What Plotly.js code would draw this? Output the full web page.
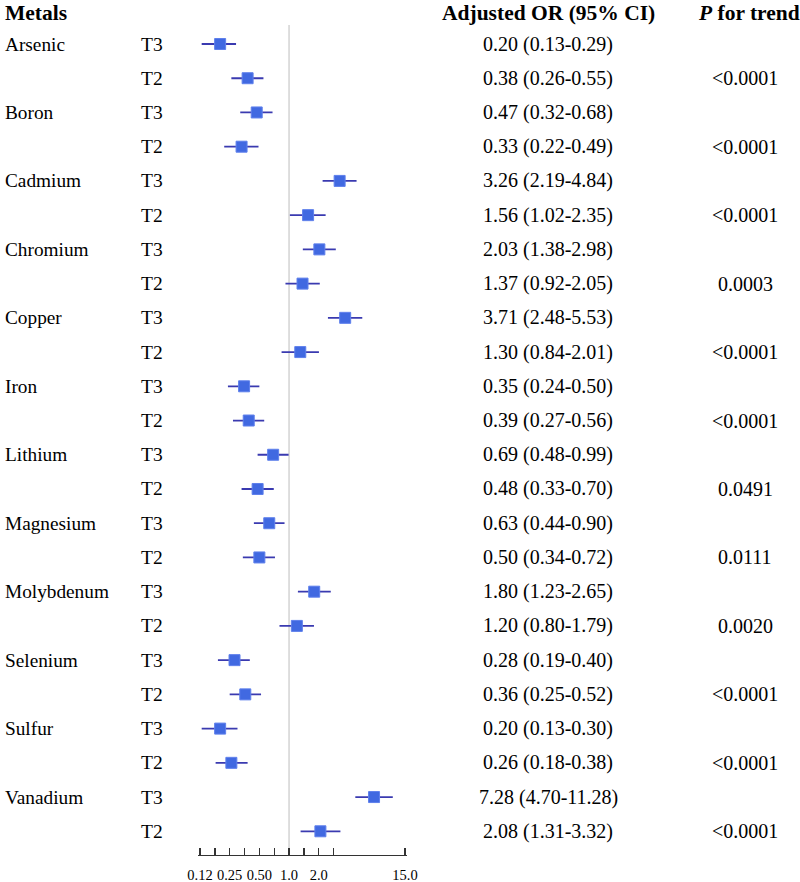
<!DOCTYPE html>
<html>
<head>
<meta charset="utf-8">
<script src="https://cdn.plot.ly/plotly-3.0.1.min.js"></script>
<style>html,body{margin:0;padding:0;background:#fff;}#chart{width:800px;height:882px;}</style>
</head>
<body>
<div id="chart"></div>
<script>
const metals = ["Arsenic","Boron","Cadmium","Chromium","Copper","Iron","Lithium","Magnesium","Molybdenum","Selenium","Sulfur","Vanadium"];
const t3OR = [0.20,0.47,3.26,2.03,3.71,0.35,0.69,0.63,1.80,0.28,0.20,7.28];
const t3Lo = [0.13,0.32,2.19,1.38,2.48,0.24,0.48,0.44,1.23,0.19,0.13,4.70];
const t3Hi = [0.29,0.68,4.84,2.98,5.53,0.50,0.99,0.90,2.65,0.40,0.30,11.28];
const t2OR = [0.38,0.33,1.56,1.37,1.30,0.39,0.48,0.50,1.20,0.36,0.26,2.08];
const t2Lo = [0.26,0.22,1.02,0.92,0.84,0.27,0.33,0.34,0.80,0.25,0.18,1.31];
const t2Hi = [0.55,0.49,2.35,2.05,2.01,0.56,0.70,0.72,1.79,0.52,0.38,3.32];
const pTrend = ["<0.0001","<0.0001","<0.0001","0.0003","<0.0001","<0.0001","0.0491","0.0111","0.0020","<0.0001","<0.0001","<0.0001"];
const tickVals = [0.125,0.1768,0.25,0.3536,0.5,0.7071,1,1.4142,2,2.8284,15];
const tickText = ["0.12","","0.25","","0.50","","1.0","","2.0","","15.0"];

const FONT = "Liberation Serif, Times New Roman, serif";
const W = 800, H = 882;
const rowTop = 44, rowStep = 34.23;
const domTopPx = 25, domBotPx = 855;
const yTopVal = (domTopPx - rowTop) / rowStep;
const yBotVal = (domBotPx - rowTop) / rowStep;

const yT3 = metals.map((m,i)=>2*i);
const yT2 = metals.map((m,i)=>2*i+1);

function mk(or, lo, hi, ys){
  return {
    type:'scatter', mode:'markers', x: or, y: ys,
    marker:{symbol:'square', size:11, color:'#4169E1', line:{width:1, color:'#5f80ec'}},
    error_x:{type:'data', symmetric:false,
      array: or.map((v,i)=>hi[i]-v), arrayminus: or.map((v,i)=>v-lo[i]),
      color:'#3a3ab0', thickness:1.8, width:0},
    hoverinfo:'skip', showlegend:false, cliponaxis:false
  };
}
const fmt = v => v.toFixed(2);
const ann = [];
function txt(x, y, text, anchor, size, bold, yref){
  ann.push({xref:'paper', yref: yref||'y', x: x/W, y: y, text: bold?('<b>'+text+'</b>'):text,
    xanchor: anchor, yanchor:'middle', showarrow:false,
    font:{family:FONT, size:size, color:'#000'}});
}
const hdrY = 1 - 13/H;
txt(3, hdrY, 'Metals', 'left', 21.5, true, 'paper');
txt(548, hdrY, 'Adjusted OR (95% CI)', 'center', 21.5, true, 'paper');
txt(749, hdrY, '<i>P</i> for trend', 'center', 21.5, true, 'paper');
metals.forEach((m,i)=>{
  txt(3, yT3[i], m, 'left', 19.3, false);
  txt(139, yT3[i], 'T3', 'left', 19.5, false);
  txt(139, yT2[i], 'T2', 'left', 19.5, false);
  txt(548, yT3[i], fmt(t3OR[i])+' ('+fmt(t3Lo[i])+'-'+fmt(t3Hi[i])+')', 'center', 20, false);
  txt(548, yT2[i], fmt(t2OR[i])+' ('+fmt(t2Lo[i])+'-'+fmt(t2Hi[i])+')', 'center', 20, false);
  txt(745, yT2[i], pTrend[i], 'center', 20, false);
});

// padding (>1px) so the end ticks are not clipped by Plotly
const pxPerDec = 205 / (Math.log10(15) - Math.log10(0.125));
const padPx = 1.6;
const padDec = padPx / pxPerDec;

const layout = {
  width: W, height: H,
  margin:{l:0, r:0, t:0, b:0},
  paper_bgcolor:'#fff', plot_bgcolor:'rgba(0,0,0,0)',
  xaxis:{type:'log', domain:[(200-padPx)/W, (405+padPx)/W],
    range:[Math.log10(0.125)-padDec, Math.log10(15)+padDec],
    showline:true, linecolor:'#333', linewidth:1.3, mirror:false,
    showgrid:false, zeroline:false,
    ticks:'inside', ticklen:7, tickwidth:1.3, tickcolor:'#333',
    tickmode:'array', tickvals: tickVals, ticktext: tickText,
    ticklabelstandoff: 6,
    tickfont:{family:FONT, size:14.5, color:'#000'}, fixedrange:true},
  yaxis:{domain:[(H-domBotPx)/H, 1-domTopPx/H], range:[yBotVal, yTopVal],
    visible:false, fixedrange:true},
  shapes:[{type:'line', xref:'x', yref:'paper', x0:1, x1:1,
    y0:(H-domBotPx)/H, y1:1-domTopPx/H, line:{color:'#d3d3d3', width:1.5}, layer:'below'}],
  annotations: ann
};
Plotly.newPlot('chart', [mk(t3OR,t3Lo,t3Hi,yT3), mk(t2OR,t2Lo,t2Hi,yT2)], layout, {staticPlot:true, displayModeBar:false});
</script>
</body>
</html>
